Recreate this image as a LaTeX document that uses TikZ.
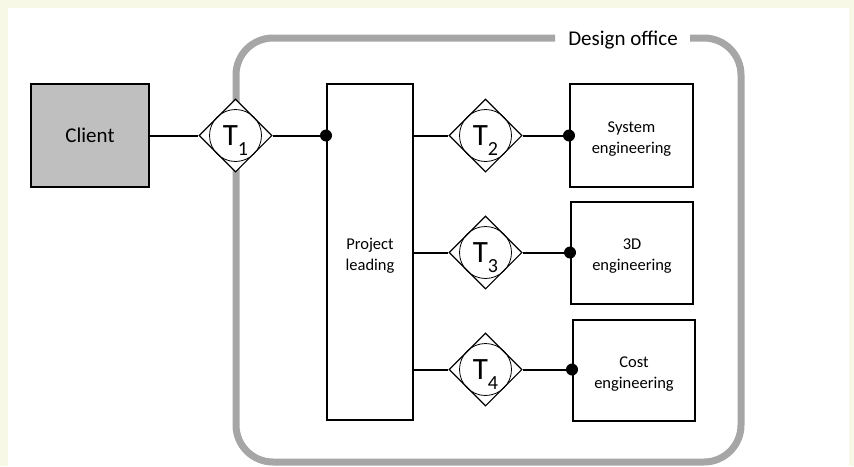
\documentclass[tikz,border=0pt]{standalone}
\usepackage{fontspec}
\setmainfont{Carlito}
\usetikzlibrary{shapes.geometric}
\definecolor{pagebg}{RGB}{248,248,230}
\definecolor{officegray}{RGB}{166,166,166}
\definecolor{clientgray}{RGB}{191,191,191}
\tikzset{
  unitbox/.style={draw=black, line width=2pt, fill=white},
  clientbox/.style={draw=black, line width=2pt, fill=clientgray},
  link/.style={line width=2pt},
  joint/.style={circle, fill=black, inner sep=0pt, minimum size=12pt},
  txfer/.style={diamond, draw=black, line width=1.1pt, fill=white, inner sep=0pt,
                minimum width=73pt, minimum height=73pt},
  txring/.style={circle, draw=black, line width=0.8pt, inner sep=0pt, minimum size=52pt},
  boxlabel/.style={align=center, font=\fontsize{16.5}{21}\selectfont},
}
\newcommand{\tlabel}[1]{\fontsize{31}{31}\selectfont T\raisebox{-10pt}{\fontsize{20}{20}\selectfont #1}}
\begin{document}
\begin{tikzpicture}[x=1pt,y=-1pt]
  % page background with light frame
  \fill[pagebg] (0,0) rectangle (854,466);
  \fill[white] (8,8) rectangle (849,466);
  \useasboundingbox (0,0) rectangle (854,466);

  % design office boundary with title gap
  \draw[officegray, line width=7pt, rounded corners=37pt]
    (555,38) -- (236,38) -- (236,462) -- (741,462) -- (741,38) -- (690,38);
  \node[font=\fontsize{21}{21}\selectfont, anchor=center] (office) at (623,40) {Design office};

  % boxes
  \node[clientbox, minimum width=118pt, minimum height=103pt, inner sep=0pt,
        font=\fontsize{21}{21}\selectfont] (client) at (90,135.5) {Client};
  \node[unitbox, minimum width=86pt, minimum height=336pt, inner sep=0pt] (lead) at (370,252) {};
  \node[boxlabel] (leadtxt) at (370,256) {Project\\leading};
  \node[unitbox, minimum width=123pt, minimum height=103pt, inner sep=0pt] (sys) at (631.5,135.5) {};
  \node[boxlabel] at (631.5,139) {System\\engineering};
  \node[unitbox, minimum width=122pt, minimum height=102pt, inner sep=0pt] (threed) at (632,253) {};
  \node[boxlabel] at (632,256) {3D\\engineering};
  \node[unitbox, minimum width=122pt, minimum height=101pt, inner sep=0pt] (cost) at (634,370.5) {};
  \node[boxlabel] at (634,374) {Cost\\engineering};

  % transfer points
  \node[txfer] (t1) at (235.5,135.5) {};
  \node[txring] at (t1) {};
  \node at ([yshift=-5pt]t1) {\tlabel{1}};
  \node[txfer] (t2) at (485.5,135.5) {};
  \node[txring] at (t2) {};
  \node at ([yshift=-5pt]t2) {\tlabel{2}};
  \node[txfer] (t3) at (485.5,252.5) {};
  \node[txring] at (t3) {};
  \node at ([yshift=-5pt]t3) {\tlabel{3}};
  \node[txfer] (t4) at (485.5,369.5) {};
  \node[txring] at (t4) {};
  \node at ([yshift=-5pt]t4) {\tlabel{4}};

  % joints
  \coordinate (j1) at (lead.west |- t1);
  \coordinate (j2) at (sys.west |- t2);
  \coordinate (j3) at (threed.west |- t3);
  \coordinate (j4) at (cost.west |- t4);
  \coordinate (s2) at (lead.east |- t2);
  \coordinate (s3) at (lead.east |- t3);
  \coordinate (s4) at (lead.east |- t4);

  % connectors
  \draw[link] (client.east) -- (t1.west);
  \draw[link] (t1.east) -- (j1);
  \draw[link] (s2) -- (t2.west);
  \draw[link] (t2.east) -- (j2);
  \draw[link] (s3) -- (t3.west);
  \draw[link] (t3.east) -- (j3);
  \draw[link] (s4) -- (t4.west);
  \draw[link] (t4.east) -- (j4);

  \node[joint] at (j1) {};
  \node[joint] at (j2) {};
  \node[joint] at (j3) {};
  \node[joint] at (j4) {};
\end{tikzpicture}
\end{document}
